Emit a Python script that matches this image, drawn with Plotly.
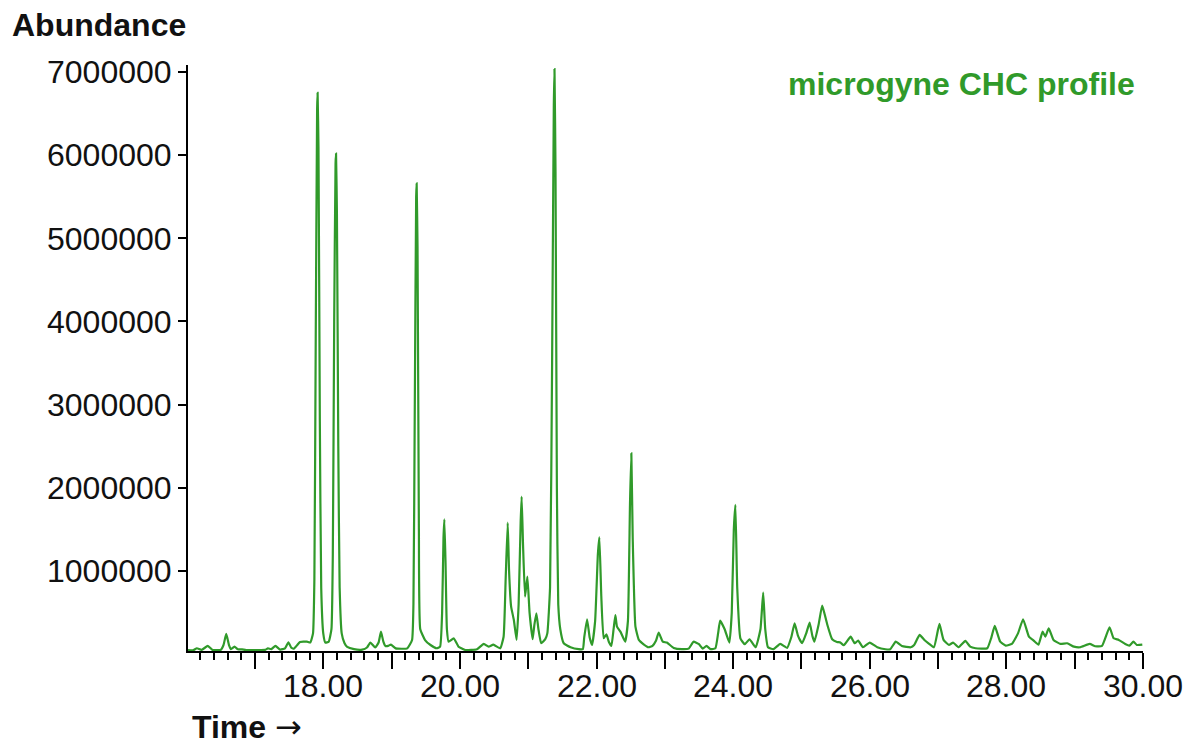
import plotly.graph_objects as go

# Retention time (min) and abundance
time_min = [
    16.02, 16.10, 16.15, 16.22, 16.31, 16.38, 16.50, 16.54, 16.58, 16.62,
    16.65, 16.70, 16.75, 16.81, 16.87, 16.96, 17.15, 17.19, 17.24, 17.30,
    17.37, 17.44, 17.49, 17.53, 17.57, 17.62, 17.66, 17.76, 17.81, 17.85,
    17.87, 17.89, 17.91, 17.917, 17.93, 17.95, 17.97, 18.00, 18.03, 18.08,
    18.12, 18.14, 18.16, 18.18, 18.187, 18.20, 18.22, 18.24, 18.27, 18.31,
    18.35, 18.45, 18.57, 18.64, 18.69, 18.76, 18.81, 18.845, 18.88, 18.91,
    18.95, 18.99, 19.06, 19.23, 19.30, 19.32, 19.34, 19.36, 19.367, 19.38,
    19.40, 19.42, 19.49, 19.57, 19.66, 19.71, 19.74, 19.76, 19.773, 19.79,
    19.81, 19.835, 19.91, 19.98, 20.08, 20.25, 20.35, 20.42, 20.49, 20.59,
    20.64, 20.67, 20.70, 20.72, 20.75, 20.79, 20.83, 20.86, 20.89, 20.904,
    20.925, 20.954, 20.988, 21.02, 21.065, 21.09, 21.12, 21.15, 21.19, 21.25,
    21.28, 21.32, 21.35, 21.375, 21.385, 21.40, 21.42, 21.44, 21.47, 21.52,
    21.62, 21.74, 21.80, 21.82, 21.862, 21.90, 21.935, 21.98, 22.02, 22.042,
    22.07, 22.105, 22.145, 22.18, 22.218, 22.25, 22.276, 22.30, 22.35, 22.42,
    22.46, 22.49, 22.51, 22.53, 22.57, 22.62, 22.69, 22.76, 22.82, 22.87,
    22.91, 22.97, 23.03, 23.13, 23.25, 23.35, 23.42, 23.50, 23.555, 23.61,
    23.67, 23.74, 23.78, 23.81, 23.876, 23.945, 23.98, 24.01, 24.033, 24.06,
    24.106, 24.17, 24.24, 24.33, 24.40, 24.44, 24.47, 24.51, 24.59, 24.69,
    24.79, 24.85, 24.90, 24.95, 25.01, 25.07, 25.12, 25.16, 25.19, 25.25,
    25.303, 25.34, 25.38, 25.45, 25.52, 25.57, 25.62, 25.72, 25.78, 25.83,
    25.90, 26.00, 26.11, 26.23, 26.30, 26.38, 26.47, 26.60, 26.65, 26.73,
    26.80, 26.86, 26.94, 27.02, 27.08, 27.16, 27.22, 27.30, 27.40, 27.47,
    27.55, 27.72, 27.78, 27.83, 27.91, 27.99, 28.08, 28.17, 28.245, 28.33,
    28.40, 28.47, 28.53, 28.57, 28.62, 28.69, 28.79, 28.89, 28.99, 29.08,
    29.22, 29.30, 29.40, 29.51, 29.57, 29.645, 29.74, 29.80, 29.86, 29.91,
    29.99,
]
abundance = [
    50000, 48000, 71000, 52000, 99000, 50000, 52000, 110000, 243000, 110000,
    60000, 90000, 60000, 58000, 48000, 50000, 52000, 70000, 60000, 99000,
    55000, 70000, 143000, 80000, 65000, 110000, 147000, 150000, 140000, 250000,
    900000, 3800000, 6550000, 6750000, 6100000, 2800000, 800000, 250000, 140000, 150000,
    300000, 1200000, 4000000, 5900000, 6020000, 5300000, 2500000, 800000, 250000, 135000,
    87000, 60000, 55000, 80000, 140000, 80000, 140000, 270000, 150000, 98000,
    100000, 115000, 70000, 70000, 170000, 600000, 3000000, 5500000, 5660000, 4900000,
    1500000, 300000, 170000, 110000, 71000, 90000, 500000, 1400000, 1622000, 1100000,
    300000, 150000, 191000, 90000, 50000, 60000, 123000, 90000, 115000, 70000,
    210000, 900000, 1581000, 1000000, 571000, 411000, 171000, 600000, 1600000, 1894000,
    1300000, 691000, 932000, 500000, 179000, 350000, 492000, 300000, 131000, 180000,
    250000, 800000, 3500000, 6600000, 7036000, 5800000, 2000000, 600000, 300000, 131000,
    83000, 60000, 60000, 200000, 420000, 200000, 110000, 400000, 1200000, 1405000,
    700000, 191000, 239000, 150000, 99000, 300000, 471000, 330000, 271000, 150000,
    400000, 1800000, 2415000, 1400000, 331000, 171000, 119000, 83000, 99000, 160000,
    259000, 150000, 139000, 75000, 60000, 67000, 150000, 120000, 67000, 99000,
    60000, 70000, 250000, 403000, 299000, 139000, 500000, 1500000, 1794000, 800000,
    191000, 119000, 179000, 83000, 300000, 740000, 300000, 83000, 60000, 123000,
    75000, 200000, 371000, 220000, 131000, 250000, 379000, 220000, 150000, 350000,
    583000, 480000, 351000, 179000, 147000, 140000, 107000, 211000, 131000, 163000,
    83000, 139000, 83000, 59000, 59000, 150000, 99000, 83000, 110000, 231000,
    171000, 131000, 83000, 363000, 171000, 111000, 139000, 83000, 159000, 90000,
    71000, 71000, 200000, 339000, 150000, 103000, 123000, 250000, 420000, 211000,
    163000, 115000, 271000, 211000, 311000, 171000, 123000, 131000, 90000, 83000,
    123000, 95000, 100000, 323000, 191000, 171000, 123000, 103000, 150000, 111000,
    115000,
]

x_tick_vals = [17, 18, 19, 20, 21, 22, 23, 24, 25, 26, 27, 28, 29, 30]
x_label_vals = [18, 20, 22, 24, 26, 28, 30]
x_label_text = ["18.00", "20.00", "22.00", "24.00", "26.00", "28.00", "30.00"]
y_tick_vals = [1000000, 2000000, 3000000, 4000000, 5000000, 6000000, 7000000]
y_tick_text = ["1000000", "2000000", "3000000", "4000000", "5000000", "6000000", "7000000"]

GREEN = "#309a2a"
FONT = "Liberation Sans, Arial, sans-serif"
FS = 32
PLOT_H = 586  # plot-area height in px

fig = go.Figure()
fig.add_trace(go.Scatter(
    x=time_min, y=abundance, mode="lines",
    line=dict(color=GREEN, width=2.2, shape="spline", smoothing=0.4),
    hoverinfo="x+y", showlegend=False,
))

annotations = [
    dict(text="<b>Abundance</b>", xref="paper", yref="paper",
         x=(10 - 188) / 955, y=(651 - 25) / PLOT_H, xanchor="left", yanchor="middle",
         showarrow=False, font=dict(size=FS, family=FONT, color="#111")),
    dict(text="<b>Time</b> <span style='font-family:DejaVu Sans'>→</span>",
         xref="paper", yref="paper",
         x=(190 - 188) / 955, y=(651 - 727) / PLOT_H, xanchor="left", yanchor="middle",
         showarrow=False, font=dict(size=FS, family=FONT, color="#111")),
    dict(text="<b>microgyne CHC profile</b>", xref="paper", yref="paper",
         x=(1137 - 188) / 955, y=(651 - 84) / PLOT_H, xanchor="right", yanchor="middle",
         showarrow=False, font=dict(size=FS, family=FONT, color=GREEN)),
]
# x-axis labels at every second whole minute
for v, t in zip(x_label_vals, x_label_text):
    annotations.append(dict(text=t, xref="x", yref="paper", x=v, y=(651 - 686) / PLOT_H,
                            xanchor="center", yanchor="middle", showarrow=False,
                            font=dict(size=FS, family=FONT, color="#111")))

fig.update_layout(
    width=1184, height=737,
    margin=dict(l=180, r=49, t=57, b=94),
    paper_bgcolor="white", plot_bgcolor="white",
    font=dict(family=FONT, size=FS, color="#111"),
    xaxis=dict(
        range=[16.02, 30.0], showgrid=False, zeroline=False,
        showline=True, linecolor="black", linewidth=2,
        ticks="outside", ticklen=16, tickwidth=2, tickcolor="black",
        tickvals=x_tick_vals, showticklabels=False,
        minor=dict(ticks="outside", dtick=0.2, tick0=16, ticklen=7, tickwidth=2, tickcolor="black"),
    ),
    yaxis=dict(
        range=[38000, 7084000], showgrid=False, zeroline=False,
        showline=True, linecolor="black", linewidth=2,
        ticks="outside", ticklen=8, tickwidth=2, tickcolor="black",
        tickvals=y_tick_vals, ticktext=y_tick_text,
        tickfont=dict(size=FS, family=FONT, color="#111"),
        ticklabelstandoff=0,
    ),
    annotations=annotations,
)

fig.write_html("out.html")
